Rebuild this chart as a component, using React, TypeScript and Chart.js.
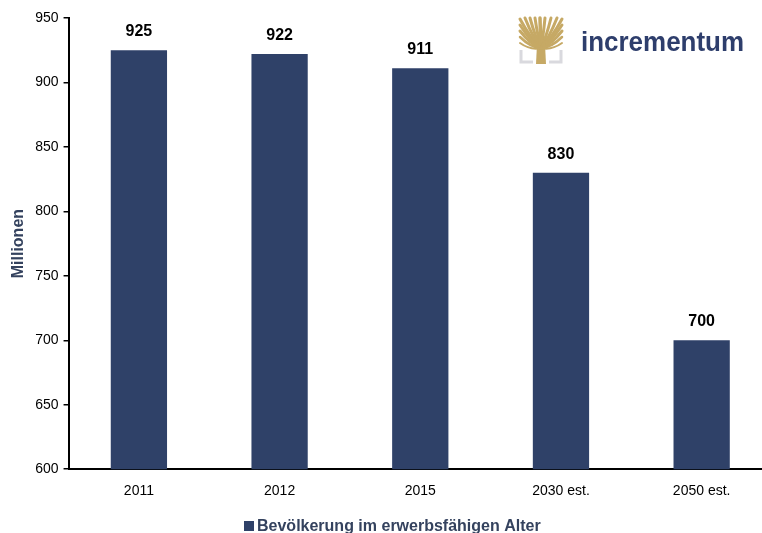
import React, { useEffect, useRef } from "react";
import { Chart, registerables } from "chart.js";

Chart.register(...registerables);

const categories = ["2011", "2012", "2015", "2030 est.", "2050 est."];
const values = [925, 922, 911, 830, 700];
const seriesLabel = "Bevölkerung im erwerbsfähigen Alter";
const yTitle = "Millionen";
const yMin = 600;
const yMax = 950;
const yStep = 50;

const BAR = "#2f4168";
const TXT = "#34425e";
const FONT = "'Liberation Sans', Arial, Helvetica, sans-serif";

const valueLabels = {
  id: "valueLabels",
  afterDatasetsDraw(chart: any) {
    const ctx = chart.ctx;
    const meta = chart.getDatasetMeta(0);
    ctx.save();
    ctx.font = `bold 16px ${FONT}`;
    ctx.fillStyle = "#000";
    ctx.textAlign = "center";
    ctx.textBaseline = "alphabetic";
    meta.data.forEach((bar: any, i: number) => {
      ctx.fillText(String(values[i]), bar.x, bar.y - 14);
    });
    ctx.restore();
  },
};

const bottomLegend = {
  id: "bottomLegend",
  afterDraw(chart: any) {
    const ctx = chart.ctx;
    ctx.save();
    ctx.fillStyle = BAR;
    ctx.fillRect(244, 521, 10, 10);
    ctx.fillStyle = TXT;
    ctx.font = `bold 16px ${FONT}`;
    ctx.textBaseline = "middle";
    ctx.textAlign = "left";
    ctx.fillText(seriesLabel, 257, 526.5);
    ctx.restore();
  },
};

const logo = {
  id: "logo",
  afterDraw(chart: any) {
    const ctx = chart.ctx;
    ctx.save();
    ctx.strokeStyle = "#d9d9de";
    ctx.lineWidth = 3;
    ctx.beginPath();
    ctx.moveTo(521, 50);
    ctx.lineTo(521, 62);
    ctx.lineTo(533, 62);
    ctx.moveTo(561, 50);
    ctx.lineTo(561, 62);
    ctx.lineTo(549, 62);
    ctx.stroke();
    const gold = "#c6a965";
    ctx.strokeStyle = gold;
    ctx.fillStyle = gold;
    ctx.beginPath();
    ctx.moveTo(536, 64);
    ctx.lineTo(537, 44);
    ctx.lineTo(545, 44);
    ctx.lineTo(546, 64);
    ctx.closePath();
    ctx.fill();
    ctx.lineCap = "round";
    const tops: [number, number, number][] = [
      [520, 19, 3], [525, 18, 3], [530, 18, 3], [535, 18, 3], [540, 18, 3.5],
      [545, 18, 3], [551, 18, 3], [557, 18, 3], [562, 19, 3],
      [520, 25, 3], [562, 25, 3], [520, 31, 3], [562, 31, 3],
      [520, 37, 2.5], [562, 37, 2.5], [520, 43, 2], [562, 43, 2],
    ];
    tops.forEach(([tx, ty, w]) => {
      ctx.lineWidth = w;
      ctx.beginPath();
      ctx.moveTo(541, 48);
      ctx.quadraticCurveTo((541 + tx) / 2, (48 + ty) / 2 + 5, tx, ty);
      ctx.stroke();
    });
    ctx.fillStyle = "#2e3e6c";
    ctx.font = `bold 27px ${FONT}`;
    const txt = "incrementum";
    const w = ctx.measureText(txt).width;
    ctx.translate(581, 51);
    ctx.scale(163 / w, 1);
    ctx.textBaseline = "alphabetic";
    ctx.fillText(txt, 0, 0);
    ctx.restore();
  },
};

export default function App() {
  const ref = useRef<HTMLCanvasElement>(null);
  useEffect(() => {
    document.documentElement.style.overflow = "hidden";
    document.body.style.overflow = "hidden";
    const chart = new Chart(ref.current!, {
      type: "bar",
      data: {
        labels: categories,
        datasets: [
          {
            label: seriesLabel,
            data: values,
            backgroundColor: BAR,
            borderWidth: 0,
            barPercentage: 0.4,
            categoryPercentage: 1,
          },
        ],
      },
      options: {
        animation: false,
        responsive: false,
        maintainAspectRatio: false,
        layout: { padding: { top: 18, left: 9, right: 0, bottom: 27 } },
        plugins: {
          tooltip: { enabled: false },
          legend: { display: false },
        },
        scales: {
          x: {
            grid: { display: false },
            border: { display: true, color: "#000", width: 2 },
            ticks: {
              font: { family: FONT, size: 14 },
              color: "#000",
              padding: 6,
            },
          },
          y: {
            min: yMin,
            max: yMax,
            grid: {
              drawOnChartArea: false,
              drawTicks: true,
              tickLength: 5,
              color: "#000",
              lineWidth: 1.5,
            },
            border: { display: true, color: "#000", width: 2 },
            ticks: {
              stepSize: yStep,
              font: { family: FONT, size: 14 },
              color: "#000",
              padding: 5,
            },
            title: {
              display: true,
              text: yTitle,
              font: { family: FONT, size: 16, weight: "bold" },
              color: TXT,
              padding: { top: 0, bottom: 2 },
            },
          },
        },
      },
      plugins: [valueLabels, bottomLegend, logo],
    });
    return () => chart.destroy();
  }, []);
  return (
    <div style={{ position: "fixed", left: 0, top: 0, width: 772, height: 533, background: "#fff" }}>
      <canvas ref={ref} width={772} height={533} style={{ display: "block" }} />
    </div>
  );
}
